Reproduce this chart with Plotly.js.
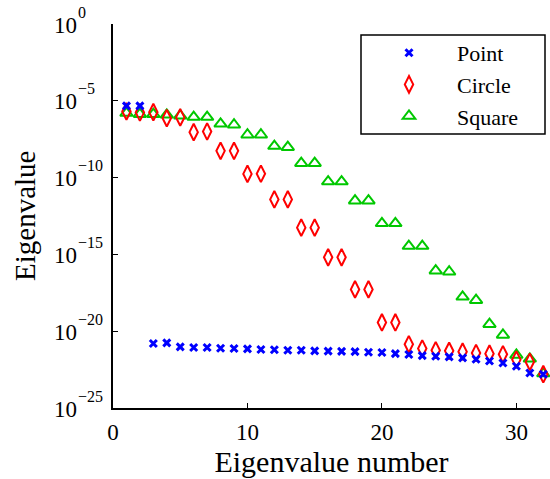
<!DOCTYPE html>
<html>
<head>
<meta charset="utf-8">
<script src="https://cdn.plot.ly/plotly-3.0.1.min.js"></script>
<style>
  html, body { margin: 0; padding: 0; background: #fff; }
  #chart { width: 550px; height: 479px; }
</style>
</head>
<body>
<div id="chart"></div>
<script>
// Eigenvalue index
const eigNumber = [1, 2, 3, 4, 5, 6, 7, 8, 9, 10, 11, 12, 13, 14, 15, 16,
                   17, 18, 19, 20, 21, 22, 23, 24, 25, 26, 27, 28, 29, 30, 31, 32];

// log10 of each eigenvalue, per source shape
const pointLog10 = [-5.33, -5.33, -20.80, -20.76, -21.02, -21.06, -21.06, -21.11,
                    -21.13, -21.15, -21.19, -21.21, -21.24, -21.24, -21.28, -21.30,
                    -21.31, -21.33, -21.37, -21.39, -21.46, -21.52, -21.59, -21.63,
                    -21.67, -21.74, -21.83, -21.94, -22.07, -22.28, -22.72, -22.80];
const circleLog10 = [-5.69, -5.76, -5.74, -6.13, -6.08, -7.04, -7.00, -8.26,
                     -8.26, -9.76, -9.75, -11.42, -11.42, -13.26, -13.26, -15.19,
                     -15.19, -17.28, -17.28, -19.43, -19.43, -20.85, -21.13, -21.24,
                     -21.28, -21.33, -21.42, -21.46, -21.50, -21.85, -22.00, -22.80];
const squareLog10 = [-5.80, -5.87, -5.87, -5.91, -5.97, -6.06, -6.06, -6.50,
                     -6.56, -7.21, -7.21, -7.95, -8.02, -9.06, -9.06, -10.26,
                     -10.26, -11.50, -11.50, -12.98, -12.98, -14.46, -14.46, -16.06,
                     -16.13, -17.76, -17.98, -19.54, -20.24, -21.55, -21.80, -22.76];

// Axis ticks
const xTicks = [0, 10, 20, 30];
const yTickExponents = [0, -5, -10, -15, -20, -25];

const toValue = arr => arr.map(e => Math.pow(10, e));
const FONT = "'Liberation Serif', 'DejaVu Serif', serif";

// drawn bottom-to-top: Square, Circle, Point (legend order reversed)
const traces = [
  {
    name: 'Square', x: eigNumber, y: toValue(squareLog10), type: 'scatter', mode: 'markers',
    marker: { symbol: 'triangle-up-open', size: 11, color: 'rgb(0,200,0)',
              line: { color: 'rgb(0,200,0)', width: 2 } }
  },
  {
    name: 'Circle', x: eigNumber, y: toValue(circleLog10), type: 'scatter', mode: 'markers',
    marker: { symbol: 'diamond-tall-open', size: 12, color: 'rgb(255,0,0)',
              line: { color: 'rgb(255,0,0)', width: 2 } }
  },
  {
    name: 'Point', x: eigNumber, y: toValue(pointLog10), type: 'scatter', mode: 'markers',
    marker: { symbol: 'x-thin-open', size: 7, color: 'rgb(0,0,255)',
              line: { color: 'rgb(0,0,255)', width: 3 } }
  }
];

// pixel -> paper helpers for the plot area (113..550 x 24..408)
const PLOT_L = 113, PLOT_W = 437, PLOT_B = 408, PLOT_H = 384;
const px = v => (v - PLOT_L) / PLOT_W;
const py = v => (PLOT_B - v) / PLOT_H;

// y tick labels: base "10" left aligned, exponent raised beside it
const annotations = [];
yTickExponents.forEach(p => {
  annotations.push({
    xref: 'paper', yref: 'y', x: px(52), y: p, yshift: -1,
    xanchor: 'left', yanchor: 'middle', showarrow: false,
    text: '10', font: { family: FONT, size: 23, color: '#000' }
  });
  annotations.push({
    xref: 'paper', yref: 'y', x: px(76), y: p, yshift: 12,
    xanchor: 'left', yanchor: 'middle', showarrow: false,
    text: p < 0 ? '\u2212' + (-p) : String(p),
    font: { family: FONT, size: 16, color: '#000' }
  });
});
// y axis title
annotations.push({
  xref: 'paper', yref: 'paper', x: px(25), y: 0.5,
  xanchor: 'center', yanchor: 'middle', showarrow: false, textangle: -90,
  text: 'Eigenvalue', font: { family: FONT, size: 29, color: '#000' }
});

const layout = {
  width: 550, height: 479,
  margin: { l: 113, r: 0, t: 24, b: 71 },
  paper_bgcolor: '#fff', plot_bgcolor: '#fff',
  font: { family: FONT, color: '#000' },
  showlegend: true,
  legend: {
    x: px(361), y: py(32), xanchor: 'left', yanchor: 'top',
    traceorder: 'reversed',
    itemwidth: 86,
    bgcolor: 'rgba(0,0,0,0)', borderwidth: 0,
    font: { family: FONT, size: 22, color: '#000' }
  },
  // legend frame
  shapes: [{
    type: 'rect', xref: 'paper', yref: 'paper', layer: 'below',
    x0: px(361), x1: px(545), y0: py(134), y1: py(35),
    line: { color: '#000', width: 1.5 }, fillcolor: '#fff'
  }],
  xaxis: {
    range: [0, 32.5], tickmode: 'array', tickvals: xTicks,
    ticks: 'inside', ticklen: 5, tickwidth: 1, tickcolor: '#000',
    ticklabelstandoff: 2,
    showline: true, linecolor: '#000', linewidth: 2,
    showgrid: false, zeroline: false,
    tickfont: { family: FONT, size: 23, color: '#000' },
    title: { text: 'Eigenvalue number', font: { family: FONT, size: 30, color: '#000' }, standoff: 4 }
  },
  yaxis: {
    type: 'log', range: [-25, 0],
    tickmode: 'array', tickvals: toValue(yTickExponents),
    showticklabels: false,
    ticks: 'inside', ticklen: 5, tickwidth: 1, tickcolor: '#000',
    showline: true, linecolor: '#000', linewidth: 2,
    showgrid: false, zeroline: false
  },
  annotations: annotations
};

Plotly.newPlot('chart', traces, layout, { displayModeBar: false, staticPlot: true });
</script>
</body>
</html>
